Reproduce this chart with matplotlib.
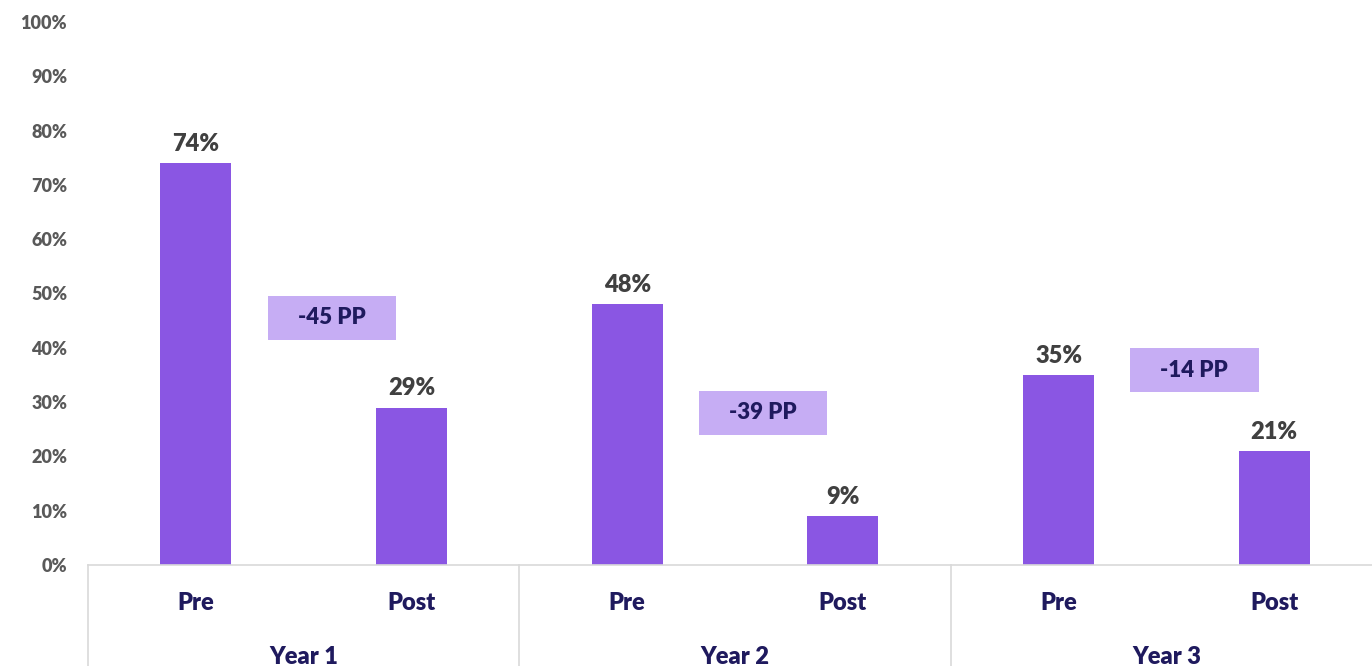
import matplotlib

matplotlib.use("Agg")
import matplotlib.pyplot as plt
from matplotlib.patches import Rectangle
from matplotlib.transforms import blended_transform_factory

# data
years = ["Year 1", "Year 2", "Year 3"]
phases = ["Pre", "Post"]
values = [0.74, 0.29, 0.48, 0.09, 0.35, 0.21]
changes = ["-45 PP", "-39 PP", "-14 PP"]
change_y = [0.455, 0.28, 0.359]  # vertical centre of each change box

BAR = "#8A56E3"
BOX = "#C6ADF4"
NAVY = "#1F1A5E"
GREY = "#404040"
TICK = "#595959"
LINE = "#D9D9D9"
W = "heavy"

plt.rcParams["font.family"] = ["Lato", "DejaVu Sans"]
plt.rcParams["font.weight"] = W

fig = plt.figure(figsize=(13.72, 6.66), dpi=100)
ax = fig.add_axes([88 / 1372, 101 / 666, 1294 / 1372, (565 - 22) / 666])

x = list(range(len(values)))
ax.bar(x, values, width=0.33, color=BAR, zorder=2)
for xi, v in zip(x, values):
    ax.annotate(f"{v:.0%}", (xi, v), xytext=(0, 6), textcoords="offset points",
                ha="center", va="bottom", fontsize=17, color=GREY, fontweight=W)

# change boxes between pre/post of each year
bw, bh = 0.595, 0.08
for i, (lab, cy) in enumerate(zip(changes, change_y)):
    cx = 2 * i + 0.63
    ax.add_patch(Rectangle((cx - bw / 2, cy - bh / 2), bw, bh, facecolor=BOX,
                           edgecolor="none", zorder=3))
    ax.text(cx, cy, lab, ha="center", va="center", fontsize=16, color=NAVY,
            fontweight=W, zorder=4)

ax.set_xlim(-0.5, 5.5)
ax.set_ylim(0, 1)
ax.set_yticks([i / 10 for i in range(11)])
ax.set_yticklabels([f"{i * 10}%" for i in range(11)])
ax.tick_params(axis="y", length=0, pad=15, labelsize=13, labelcolor=TICK)
for t in ax.get_yticklabels():
    t.set_fontweight(W)
ax.set_xticks([])
for s in ["left", "right", "top"]:
    ax.spines[s].set_visible(False)
ax.spines["bottom"].set_color(LINE)
ax.spines["bottom"].set_linewidth(1.2)

# two-level category axis
tr = blended_transform_factory(ax.transData, ax.transAxes)
for xi in x:
    ax.text(xi, -38 / 543, phases[xi % 2], transform=tr, ha="center", va="center",
            fontsize=17, color=NAVY, fontweight=W)
for i, yr in enumerate(years):
    ax.text(2 * i + 0.5, -92 / 543, yr, transform=tr, ha="center", va="center",
            fontsize=17, color=NAVY, fontweight=W)
for sep in [-0.5, 1.5, 3.5]:
    ax.plot([sep, sep], [0, -0.2], transform=tr, color=LINE, lw=1.2, clip_on=False)

fig.savefig("out.png", dpi=100)
